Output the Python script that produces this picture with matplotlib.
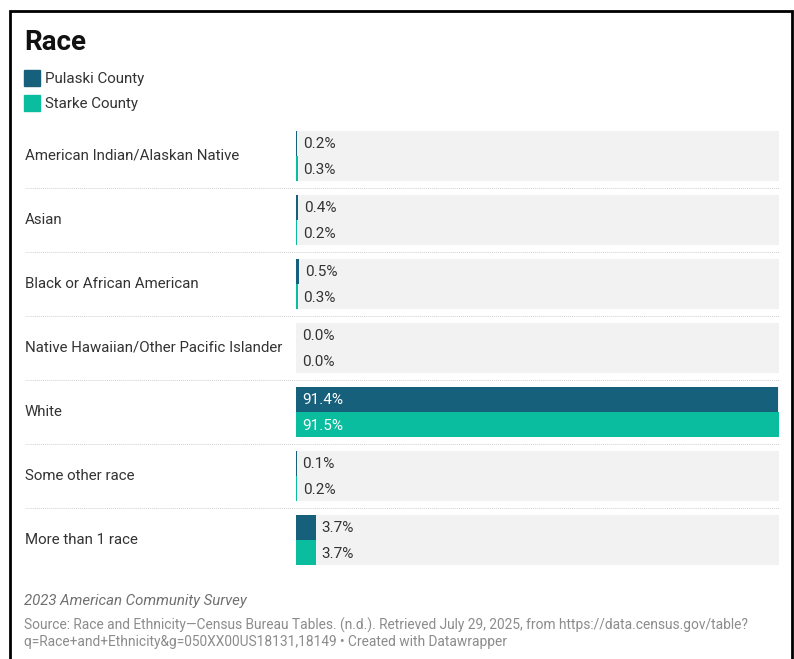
import matplotlib
matplotlib.use("Agg")
import matplotlib.pyplot as plt
from matplotlib.lines import Line2D
from matplotlib.patches import Rectangle

categories = [
    "American Indian/Alaskan Native",
    "Asian",
    "Black or African American",
    "Native Hawaiian/Other Pacific Islander",
    "White",
    "Some other race",
    "More than 1 race",
]
pulaski = [0.2, 0.4, 0.5, 0.0, 91.4, 0.1, 3.7]
starke = [0.3, 0.2, 0.3, 0.0, 91.5, 0.2, 3.7]
series_names = ["Pulaski County", "Starke County"]

C_PULASKI = "#17607c"
C_STARKE = "#0bbd9f"
C_BG = "#f2f2f2"
C_TEXT = "#333333"
C_MUTED = "#8c8c8c"

W, H = 794, 659
plt.rcParams["font.family"] = ["Roboto", "DejaVu Sans"]
fig = plt.figure(figsize=(W / 100, H / 100), dpi=100)
fig.patch.set_facecolor("white")


def fx(px):
    return px / W


def fy(py):
    return 1 - py / H


# outer frame
fig.add_artist(Rectangle((fx(10), fy(700)), fx(792) - fx(10), fy(11) - fy(700),
                         transform=fig.transFigure, fill=False,
                         edgecolor="black", linewidth=2))

# title and legend
fig.text(fx(24), fy(43), "Race", fontsize=20, fontweight="bold",
         color="#111111", va="center", ha="left")
for i, name in enumerate(series_names):
    yc = 78 + i * 25
    col = C_PULASKI if i == 0 else C_STARKE
    fig.add_artist(Rectangle((fx(24), fy(yc + 8)), fx(16), fy(yc - 8) - fy(yc + 8),
                             transform=fig.transFigure, color=col))
    fig.text(fx(45), fy(yc + 1), name, fontsize=10.9, color=C_TEXT,
             va="center", ha="left")

# bar panel
step = 64.0
grp = 50.0
top, left, right = 131, 296, 779
n = len(categories)
half = grp / 2 / step
bottom_px = top + (n - 1) * step + grp
ax = fig.add_axes([fx(left), fy(bottom_px), fx(right) - fx(left), fy(top) - fy(bottom_px)])
ax.set_axis_off()
xmax = max(max(pulaski), max(starke))
ax.set_xlim(0, xmax)
ax.set_ylim(n - 1 + half, -half)

ys = list(range(n))
bh = grp / 2 / step
ax.barh(ys, [xmax] * n, height=2 * bh, color=C_BG, zorder=1)
ax.barh([y - bh / 2 for y in ys], pulaski, height=bh, color=C_PULASKI, zorder=2)
ax.barh([y + bh / 2 for y in ys], starke, height=bh, color=C_STARKE, zorder=2)

px_per_unit = (right - left) / xmax
for y, vals in zip(ys, zip(pulaski, starke)):
    for k, v in enumerate(vals):
        yy = y - bh / 2 if k == 0 else y + bh / 2
        bar_px = v * px_per_unit
        if bar_px > 60:
            ax.annotate(f"{v:.1f}%", (0, yy), xytext=(6, -1), textcoords="offset pixels",
                        color="white", fontsize=11, va="center", ha="left", zorder=3)
        else:
            off = max(bar_px, 0) + 6
            ax.annotate(f"{v:.1f}%", (0, yy), xytext=(off, -1), textcoords="offset pixels",
                        color=C_TEXT, fontsize=11, va="center", ha="left", zorder=3)

# category labels and dotted separators
for i, cat in enumerate(categories):
    yc = top + i * step + grp / 2
    fig.text(fx(25), fy(yc), cat, fontsize=10.8, color=C_TEXT, va="center", ha="left")
    if i < n - 1:
        ysep = top + i * step + grp + 7
        fig.add_artist(Line2D([fx(25), fx(right)], [fy(ysep), fy(ysep)],
                              transform=fig.transFigure, color="#d0d0d0",
                              linewidth=0.7, linestyle=(0, (1, 1))))

# footer
fig.text(fx(24), fy(601), "2023 American Community Survey", fontsize=10.8,
         style="italic", color="#707070", va="center", ha="left")
fig.text(fx(24), fy(625),
         "Source: Race and Ethnicity\u2014Census Bureau Tables. (n.d.). Retrieved July 29, 2025, from https://data.census.gov/table?",
         fontsize=9.9, color=C_MUTED, va="center", ha="left")
fig.text(fx(24), fy(642),
         "q=Race+and+Ethnicity&g=050XX00US18131,18149 \u2022 Created with Datawrapper",
         fontsize=9.9, color=C_MUTED, va="center", ha="left")

fig.savefig("out.png", dpi=100, facecolor="white")
